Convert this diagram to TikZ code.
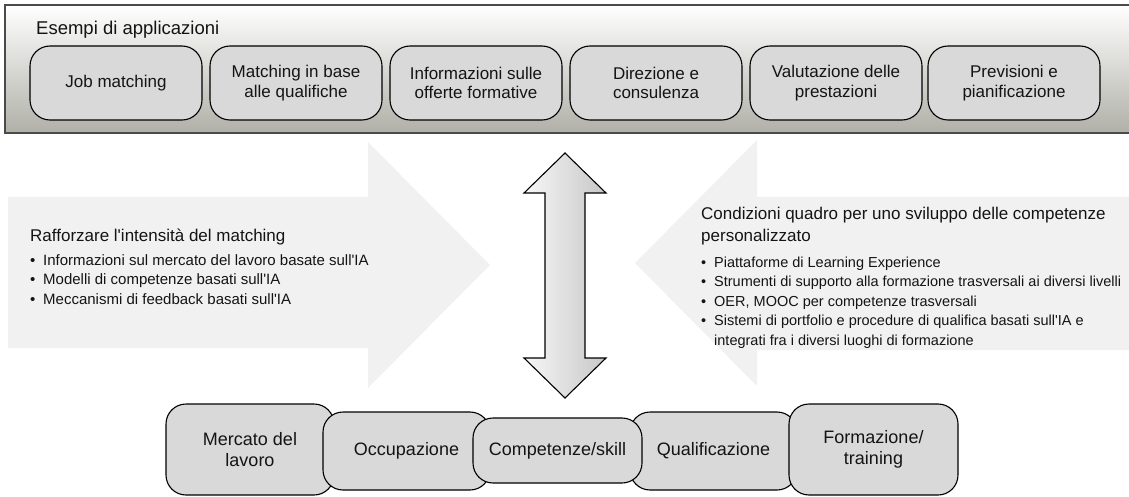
\documentclass[tikz,border=0pt]{standalone}
\usepackage{fontspec}
\setmainfont{Liberation Sans}
\usepackage{xcolor}
\usetikzlibrary{positioning}

\definecolor{boxgray}{HTML}{D9D9D9}
\definecolor{bggray}{HTML}{F1F1F1}
\definecolor{panelmid}{HTML}{E9E9E7}
\definecolor{panelbot}{HTML}{B0B0A8}
\definecolor{panelline}{HTML}{4A4A4A}
\definecolor{inkgray}{HTML}{141414}

\newcommand{\itembul}{\makebox[13pt][l]{\textbullet}}
\newcommand{\apos}{\textquotesingle}

\begin{document}
\begin{tikzpicture}[x=1pt,y=-1pt,
  every node/.style={text=inkgray},
  appbox/.style={draw=black,line width=1.1pt,fill=boxgray,rounded corners=20pt,
    minimum width=172pt,minimum height=74pt,inner sep=0pt,align=center,
    font=\fontsize{17}{19.5}\selectfont},
  basebox/.style={draw=black,line width=1.1pt,fill=boxgray,rounded corners=20pt,
    inner sep=0pt,align=center,font=\fontsize{18}{20.5}\selectfont},
  headtxt/.style={anchor=base west,inner sep=0pt,font=\fontsize{17}{21}\selectfont},
  itemtxt/.style={anchor=base west,inner sep=0pt,font=\fontsize{15}{19.5}\selectfont},
  smallitem/.style={itemtxt,font=\fontsize{14.5}{19.5}\selectfont}]

  \useasboundingbox (0,0) rectangle (1129,497);

  % panel on top
  \shade[top color=white,middle color=panelmid,bottom color=panelbot] (5,5) rectangle (1129,133);
  \draw[panelline,line width=1.6pt] (1129,5) -- (5,5) -- (5,133) -- (1129,133);
  \node[anchor=base west,inner sep=0pt,font=\fontsize{18.5}{22}\selectfont] (paneltitle) at (36,35) {Esempi di applicazioni};

  \node[appbox] (jobmatch) at (116,83) {Job matching};
  \node[appbox] (qualmatch) at (296,83) {Matching in base\\alle qualifiche};
  \node[appbox] (offerte) at (476,83) {Informazioni sulle\\offerte formative};
  \node[appbox] (direzione) at (656,83) {Direzione e\\consulenza};
  \node[appbox] (valutazione) at (836,83) {Valutazione delle\\prestazioni};
  \node[appbox] (previsioni) at (1014,83) {Previsioni e\\pianificazione};

  % big light arrows
  \fill[bggray] (8,197) -- (368,197) -- (368,142) -- (490,265) -- (368,388) -- (368,348) -- (8,348) -- cycle;
  \fill[bggray] (1129,197) -- (757,197) -- (757,140) -- (635,263) -- (757,386) -- (757,350) -- (1129,350) -- cycle;

  \node[headtxt] (lefthead) at (30,241) {Rafforzare l\apos intensità del matching};
  \node[itemtxt] (leftitema) at (30,265) {\itembul Informazioni sul mercato del lavoro basate sull\apos IA};
  \node[itemtxt] (leftitemb) at (30,284.5) {\itembul Modelli di competenze basati sull\apos IA};
  \node[itemtxt] (leftitemc) at (30,304) {\itembul Meccanismi di feedback basati sull\apos IA};

  \node[headtxt] (righthead) at (701,219) {Condizioni quadro per uno sviluppo delle competenze};
  \node[headtxt] (rightheadb) at (701,241) {personalizzato};
  \node[smallitem] (rightitema) at (701,267) {\itembul Piattaforme di Learning Experience};
  \node[smallitem] (rightitemb) at (701,286.5) {\itembul Strumenti di supporto alla formazione trasversali ai diversi livelli};
  \node[smallitem] (rightitemc) at (701,306) {\itembul OER, MOOC per competenze trasversali};
  \node[smallitem] (rightitemd) at (701,325.5) {\itembul Sistemi di portfolio e procedure di qualifica basati sull\apos IA e};
  \node[smallitem] (rightiteme) at (701,345) {\hspace*{13pt}integrati fra i diversi luoghi di formazione};

  % double arrow
  \draw[line width=1.1pt,line join=miter,left color=black!3,right color=black!22]
    (565,153) -- (606,193) -- (585,193) -- (585,358) -- (606,358) -- (565,398)
    -- (524,358) -- (545,358) -- (545,193) -- (524,193) -- cycle;

  % row at the bottom
  \node[basebox,minimum width=168pt,minimum height=91pt] (mercato) at (250,449.5) {Mercato del\\lavoro};
  \node[basebox,minimum width=167pt,minimum height=78pt] (occupazione) at (406.5,451) {Occupazione};
  \node[basebox,minimum width=167pt,minimum height=78pt] (qualifica) at (713.5,451) {Qualificazione};
  \node[basebox,minimum width=169pt,minimum height=91pt] (formazione) at (873.5,449.5) {Formazione/\\training};
  \node[basebox,minimum width=169pt,minimum height=65pt] (competenze) at (557.5,450.5) {Competenze/skill};
\end{tikzpicture}
\end{document}
